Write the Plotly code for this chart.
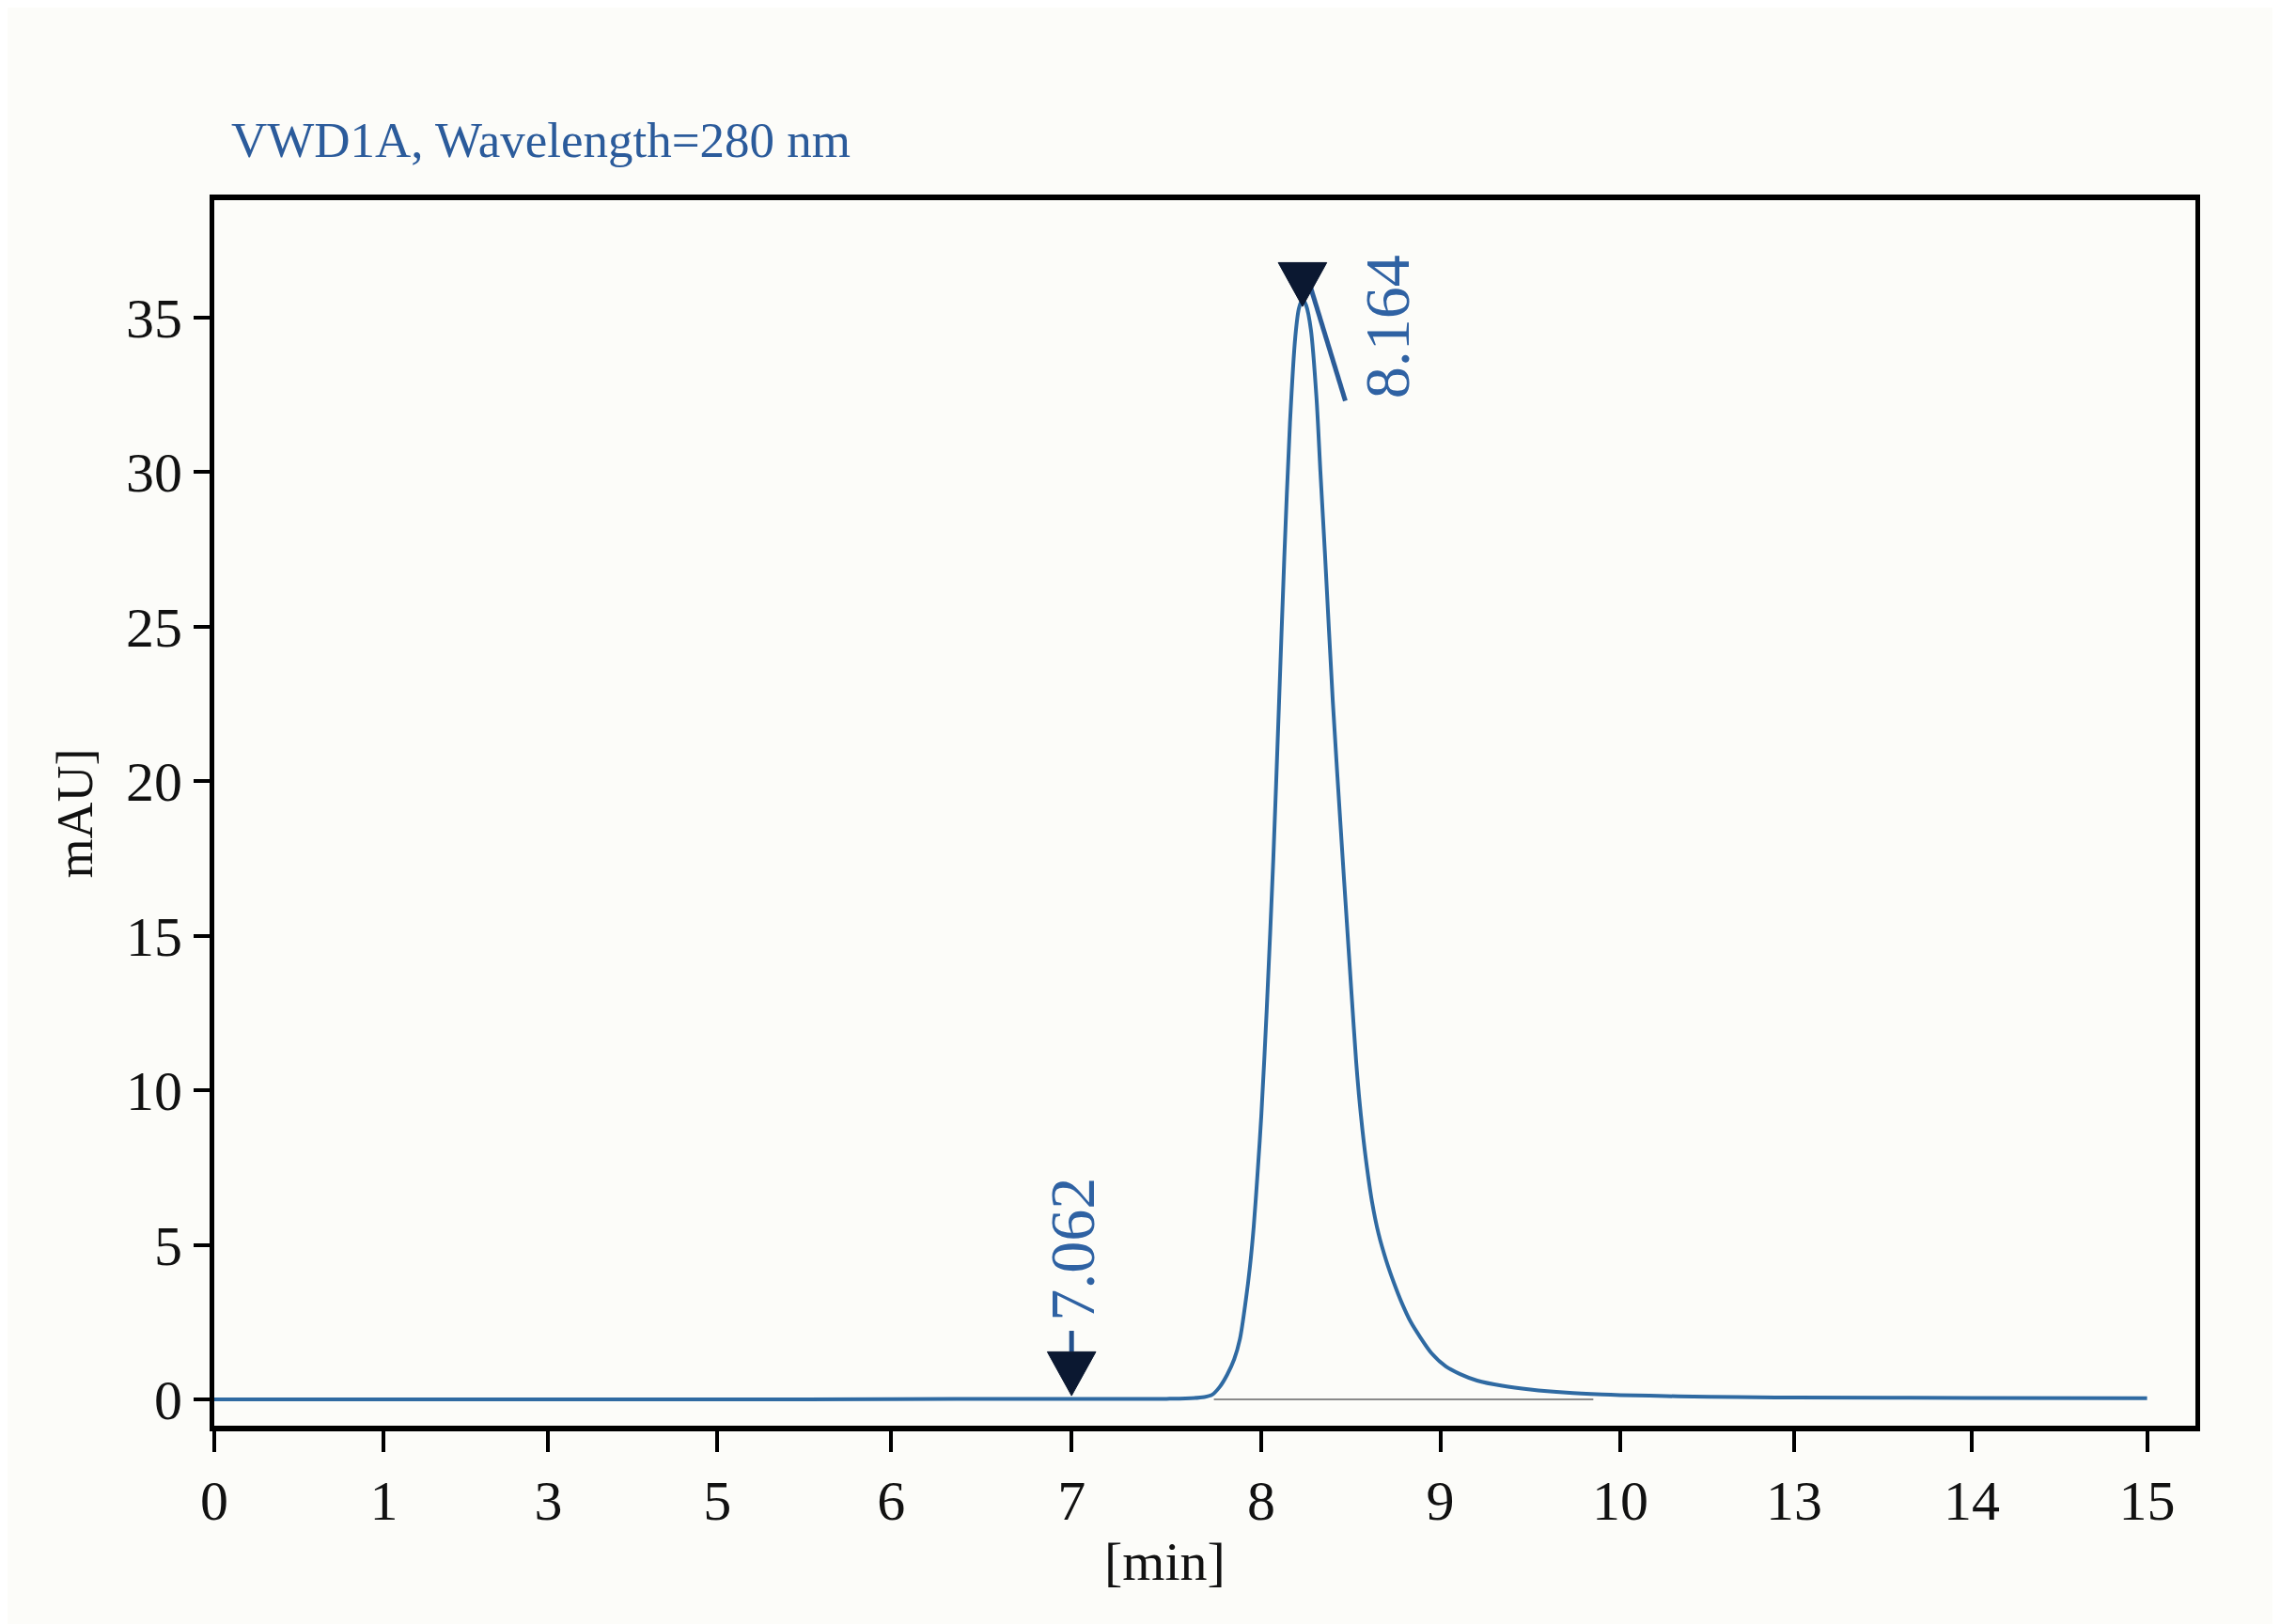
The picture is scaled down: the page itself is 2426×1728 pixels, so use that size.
import numpy as np
import plotly.graph_objects as go

# ---- data ----
tick_minutes = [0, 1, 3, 5, 6, 7, 8, 9, 10, 13, 14, 15]
tick_slots = [0, 0.965, 1.901, 2.863, 3.852, 4.879, 5.959, 6.978, 8.002, 8.991, 10.002, 11.0]

time_min = [0, 1, 3, 5, 6, 7, 7.5, 7.60, 7.70, 7.74, 7.78, 7.82, 7.857, 7.887, 7.918,
            7.94, 7.96, 7.98, 8.00, 8.03, 8.067, 8.098, 8.128, 8.16, 8.19, 8.21,
            8.23, 8.25, 8.277, 8.308, 8.33, 8.355, 8.399, 8.452, 8.478, 8.504, 8.53,
            8.545, 8.565, 8.59, 8.618, 8.655, 8.697, 8.74, 8.784, 8.835, 8.889, 8.95,
            9.03, 9.11, 9.204, 9.344, 9.5, 9.7, 9.9,
            10.0, 10.5, 11, 12, 13, 14, 15]
signal_mau = [0, 0, 0, 0, 0.01, 0.02, 0.02, 0.03, 0.08, 0.15, 0.4, 0.8, 1.3, 1.95, 3.2,
              4.3, 5.6, 7.3, 9.2, 12.6, 17.5, 22.4, 27.2, 31.6, 34.4, 35.3,
              35.6, 35.4, 34.6, 32.4, 30.0, 27.4, 22.6, 17.7, 15.4, 13.1, 10.9,
              9.85, 8.7, 7.5, 6.4, 5.35, 4.5, 3.78, 3.13, 2.5, 2.0, 1.5,
              1.07, 0.82, 0.61, 0.44, 0.32, 0.22, 0.16,
              0.14, 0.12, 0.1, 0.08, 0.06, 0.05, 0.04]

baseline_time = [7.75, 9.85]
baseline_val = [0, 0]

peak_labels = ["7.062", "8.164"]
peak_tip_time = [7.0, 8.23]
peak_tip_val = [0.12, 35.36]
label_time = [7.0, 8.703]
label_val = [4.85, 34.69]

stem_time = [7.0, 7.0]
stem_val = [1.55, 2.22]
leader_time = [8.25, 8.469]
leader_val = [36.46, 32.31]

y_ticks = [0, 5, 10, 15, 20, 25, 30, 35]

# ---- style constants ----
TRI_HALF_W = 0.138   # half width of the peak-marker triangles, x-axis units
TRI_H = 1.42         # height of the peak-marker triangles, y-axis units
BLUE_LINE = "#2f6aa2"
BLUE_TEXT = "#2f62a3"
NAVY = "#0b1831"
BG = "#fcfcf9"


def to_slot(t):
    return np.interp(np.asarray(t, dtype=float), tick_minutes, tick_slots)


fig = go.Figure()

fig.add_trace(go.Scatter(
    x=to_slot(time_min), y=signal_mau, mode="lines",
    line=dict(color=BLUE_LINE, width=4, shape="spline", smoothing=0.8),
    showlegend=False, hoverinfo="skip"))

fig.add_trace(go.Scatter(
    x=to_slot(baseline_time), y=baseline_val, mode="lines",
    line=dict(color="#8a8a8a", width=2), showlegend=False, hoverinfo="skip"))

fig.add_trace(go.Scatter(
    x=to_slot(leader_time), y=leader_val, mode="lines",
    line=dict(color="#2b5c98", width=5), showlegend=False, hoverinfo="skip"))

fig.add_trace(go.Scatter(
    x=to_slot(stem_time), y=stem_val, mode="lines",
    line=dict(color="#23508c", width=5), showlegend=False, hoverinfo="skip"))

# downward triangles whose tips sit on the marked points
tri_x, tri_y = [], []
for tx, ty in zip(to_slot(peak_tip_time), peak_tip_val):
    tri_x += [tx, tx - TRI_HALF_W, tx + TRI_HALF_W, tx, None]
    tri_y += [ty, ty + TRI_H, ty + TRI_H, ty, None]
fig.add_trace(go.Scatter(
    x=tri_x, y=tri_y, mode="lines", fill="toself", fillcolor=NAVY,
    line=dict(color=NAVY, width=1), showlegend=False, hoverinfo="skip"))

for txt, tx, ty in zip(peak_labels, to_slot(label_time), label_val):
    fig.add_annotation(x=tx, y=ty, xref="x", yref="y", text=txt, showarrow=False,
                       textangle=-90, xanchor="center", yanchor="middle",
                       font=dict(family="Liberation Serif", size=68, color=BLUE_TEXT))

fig.add_annotation(x=0.0078, y=1.049, xref="paper", yref="paper",
                   text="VWD1A, Wavelength=280 nm", showarrow=False,
                   xanchor="left", yanchor="middle",
                   font=dict(family="Liberation Serif", size=53, color="#2b5b9b"))

fig.add_annotation(x=-0.070, y=0.5, xref="paper", yref="paper", text="mAU]",
                   showarrow=False, textangle=-90, xanchor="center", yanchor="middle",
                   font=dict(family="Liberation Serif", size=54, color="#111111"))

fig.add_annotation(x=0.480, y=-0.111, xref="paper", yref="paper", text="[min]",
                   showarrow=False, xanchor="center", yanchor="middle",
                   font=dict(family="Liberation Serif", size=58, color="#111111"))

fig.update_layout(
    width=2426, height=1728,
    margin=dict(l=220, r=98, t=205, b=219, pad=0),
    paper_bgcolor=BG, plot_bgcolor=BG,
    showlegend=False,
)

fig.update_xaxes(
    range=[0, 11.275], tickvals=tick_slots, ticktext=[str(v) for v in tick_minutes],
    showgrid=False, zeroline=False,
    showline=True, mirror=True, linecolor="#000000", linewidth=6,
    ticks="outside", ticklen=22, tickwidth=3.5, tickcolor="#000000",
    tickfont=dict(family="Liberation Serif", size=60, color="#111111"),
)
fig.update_yaxes(
    range=[-0.85, 38.8], tickvals=y_ticks, ticktext=[str(v) for v in y_ticks],
    showgrid=False, zeroline=False,
    showline=True, mirror=True, linecolor="#000000", linewidth=5,
    ticks="outside", ticklen=17, tickwidth=4, tickcolor="#000000",
    tickfont=dict(family="Liberation Serif", size=60, color="#111111"),
)

fig.write_html("out.html")
